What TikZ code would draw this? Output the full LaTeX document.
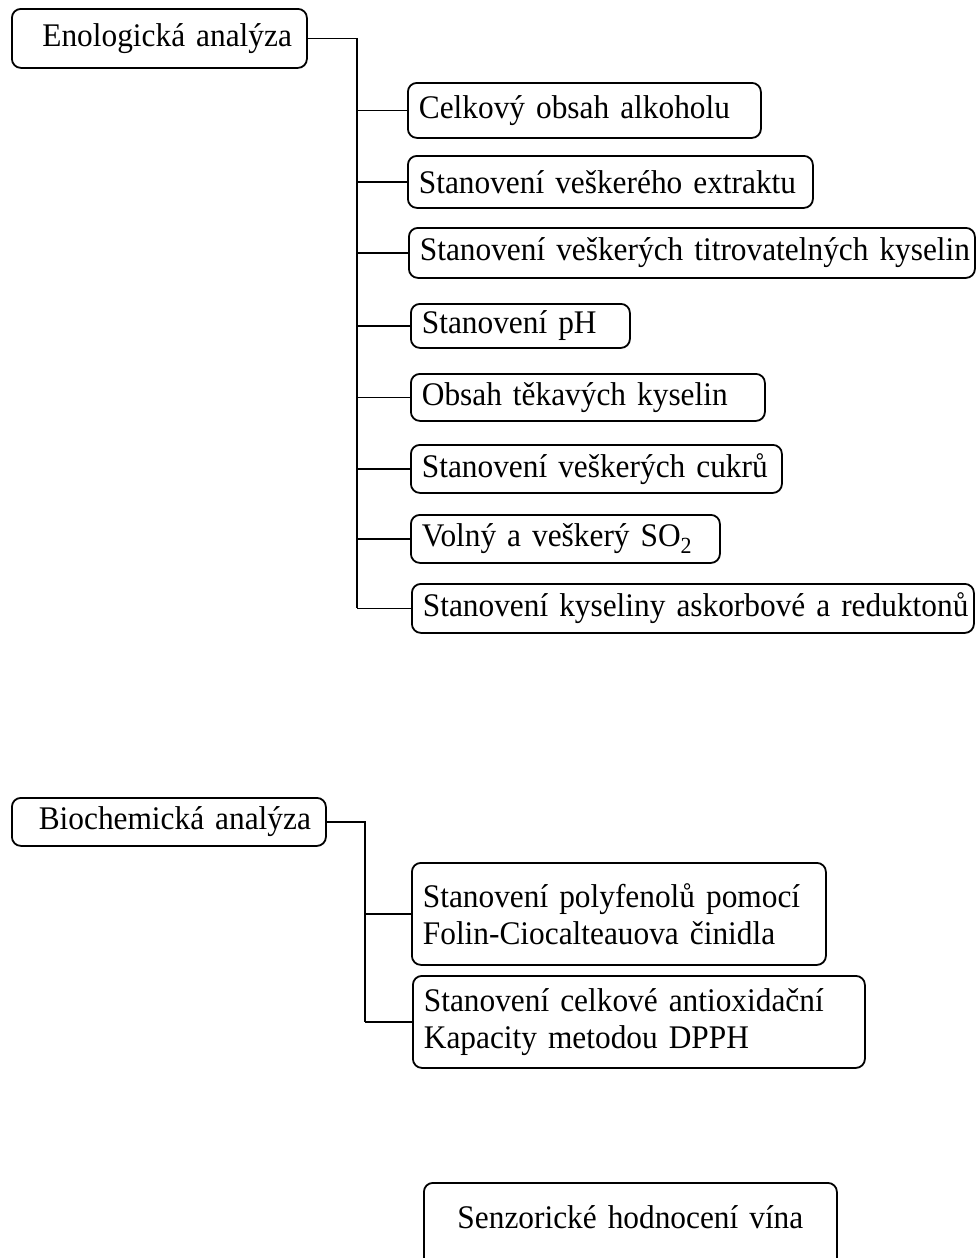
\documentclass[tikz,border=0pt]{standalone}
\usepackage{fontspec}
\setmainfont{Liberation Serif}[FakeStretch=0.95]

\tikzset{
  box/.style={draw, line width=1.8pt, rounded corners=9pt, anchor=north west,
    align=left, inner xsep=11pt, inner ysep=0pt, font=\fontsize{33}{37}\selectfont},
  rootbox/.style={box, align=right, inner xsep=15pt},
  link/.style={line width=1.8pt}
}

\begin{document}
\begin{tikzpicture}[x=1pt, y=-1pt]
	%%%%% START %%%%%
	\useasboundingbox (0,0) rectangle (976,1258);

	% enologicka analyza
	\node[rootbox, text width=265pt, minimum height=59pt] (eno) at (11,8) {Enologická analýza};
	\coordinate (trunkA) at (357,0);

	\node[box, text width=331pt, minimum height=55pt] (cel) at (407,82) {Celkový obsah alkoholu};
	\node[box, text width=383pt, minimum height=52pt] (ext) at (407,155) {Stanovení veškerého extraktu};
	\node[box, text width=544pt, minimum height=50pt] (tit) at (408,227) {\mbox{Stanovení veškerých titrovatelných kyselin}};
	\node[box, text width=197pt, minimum height=44pt] (ph) at (410,303) {Stanovení pH};
	\node[box, text width=332pt, minimum height=47pt] (tek) at (410,373) {Obsah těkavých kyselin};
	\node[box, text width=349pt, minimum height=48pt] (cuk) at (410,444) {Stanovení veškerých cukrů};
	\node[box, text width=287pt, minimum height=48pt] (so2) at (410,514) {Volný a veškerý SO\textsubscript{2}};
	\node[box, text width=540pt, minimum height=49pt] (ask) at (411,583) {\mbox{Stanovení kyseliny askorbové a reduktonů}};

	\draw[link] (eno.east) -| (ask.west -| trunkA);
	\foreach \n in {cel,ext,tit,ph,tek,cuk,so2,ask}
		\draw[link] (\n.west) -- (\n.west -| trunkA);

	% biochemicka analyza
	\node[rootbox, text width=284pt, minimum height=48pt] (bio) at (11,797) {Biochemická analýza};
	\coordinate (trunkB) at (365,0);

	\node[box, text width=392pt, minimum height=102pt] (pol) at (411,862) {Stanovení polyfenolů pomocí\\Folin-Ciocalteauova činidla};
	\node[box, text width=430pt, minimum height=92pt] (dpph) at (412,975) {Stanovení celkové antioxidační\\Kapacity metodou DPPH};

	\draw[link] (bio.east) -| (dpph.west -| trunkB);
	\foreach \n in {pol,dpph}
		\draw[link] (\n.west) -- (\n.west -| trunkB);

	% senzoricke hodnoceni
	\node[box, align=center, inner xsep=0pt, inner ysep=22pt, text width=413pt,
		text height=24pt, text depth=20pt] (sen) at (423,1182) {Senzorické hodnocení vína};
	%%%%% END %%%%%
\end{tikzpicture}
\end{document}
